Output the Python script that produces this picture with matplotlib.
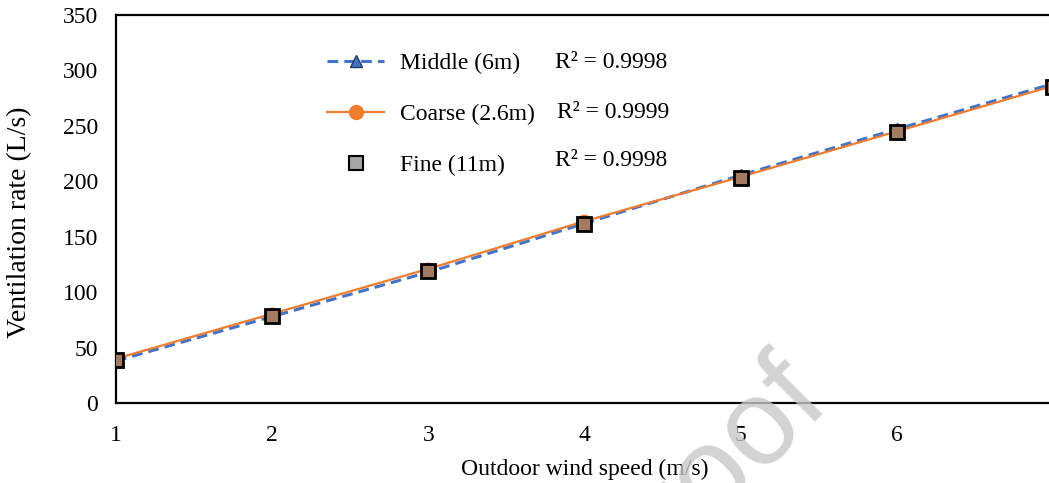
import matplotlib
matplotlib.use("Agg")
import matplotlib.pyplot as plt
from matplotlib.lines import Line2D

# Ventilation rate vs outdoor wind speed for three mesh sizes
wind_speed = [1, 2, 3, 4, 5, 6, 7]
middle = [38.0, 78.0, 118.0, 162.0, 205.5, 247.0, 288.0]
coarse = [40.0, 80.5, 121.0, 164.0, 204.0, 245.0, 286.0]
fine = [38.5, 78.7, 118.7, 161.6, 203.3, 244.8, 285.5]

labels = ["Middle (6m)", "Coarse (2.6m)", "Fine (11m)"]
r2_labels = ["R² = 0.9998", "R² = 0.9999", "R² = 0.9998"]

BLUE = "#4472C4"
ORANGE = "#ED7D31"
BROWN = "#A27B62"
GREY = "#A5A5A5"
FS = 17

plt.rcParams["font.family"] = ["Liberation Serif", "DejaVu Serif"]

fig = plt.figure(figsize=(10.49, 4.83), dpi=100)
ax = fig.add_axes([116 / 1049, 80 / 483, 937 / 1049, 388 / 483])

ax.plot(wind_speed, coarse, color=ORANGE, lw=1.6, marker="o", ms=9,
        mfc=ORANGE, mec=ORANGE, zorder=3)
ax.plot(wind_speed, middle, color=BLUE, lw=2.2, ls=(0, (3.5, 2)), marker="^",
        ms=9, mfc=BLUE, mec="#1F3864", zorder=2)
ax.plot(wind_speed, fine, ls="none", marker="s", ms=10, mfc=BROWN,
        mec="black", mew=2, zorder=4)

ax.set_xlim(1, 7)
ax.set_ylim(0, 350)
ax.set_xticks(wind_speed)
ax.set_yticks(range(0, 351, 50))
ax.tick_params(length=0, labelsize=FS)
ax.tick_params(axis="x", pad=16)
ax.tick_params(axis="y", pad=13)
for side in ["left", "bottom", "top", "right"]:
    ax.spines[side].set_linewidth(1.6)

ax.set_xlabel("Outdoor wind speed (m/s)", fontsize=FS, labelpad=9)
ax.set_ylabel("Ventilation rate (L/s)", fontsize=20)
# y title sits a little below the middle of the axis, near the left edge
ax.yaxis.set_label_coords(-84 / 937, (403 - 222) / 388)

handles = [
    Line2D([], [], color=BLUE, lw=2.2, ls=(0, (3.5, 2)), marker="^", ms=9,
           mfc=BLUE, mec="#1F3864"),
    Line2D([], [], color=ORANGE, lw=1.6, marker="o", ms=10, mfc=ORANGE,
           mec=ORANGE),
    Line2D([], [], ls="none", marker="s", ms=10, mfc=GREY, mec="black",
           mew=1.5),
]
ax.legend(handles, labels, loc="upper left",
          bbox_to_anchor=(306 / 1049, 1 - 31 / 483),
          bbox_transform=fig.transFigure, frameon=False, fontsize=FS,
          handlelength=2.4, handletextpad=0.7, labelspacing=1.25)

for x, y, text in zip([555, 557, 555], [62, 112, 160], r2_labels):
    fig.text(x / 1049, 1 - y / 483, text, fontsize=FS, va="center")

# "Journal Pre-proof" watermark running off the lower right
fig.text(832 / 1049, 1 - 405 / 483, "Journal Pre-proof", fontsize=88,
         family="Liberation Sans", color="#c8c8c8", alpha=0.8,
         rotation=45, rotation_mode="anchor", ha="right", va="baseline",
         zorder=10)

fig.savefig("out.png", dpi=100)
